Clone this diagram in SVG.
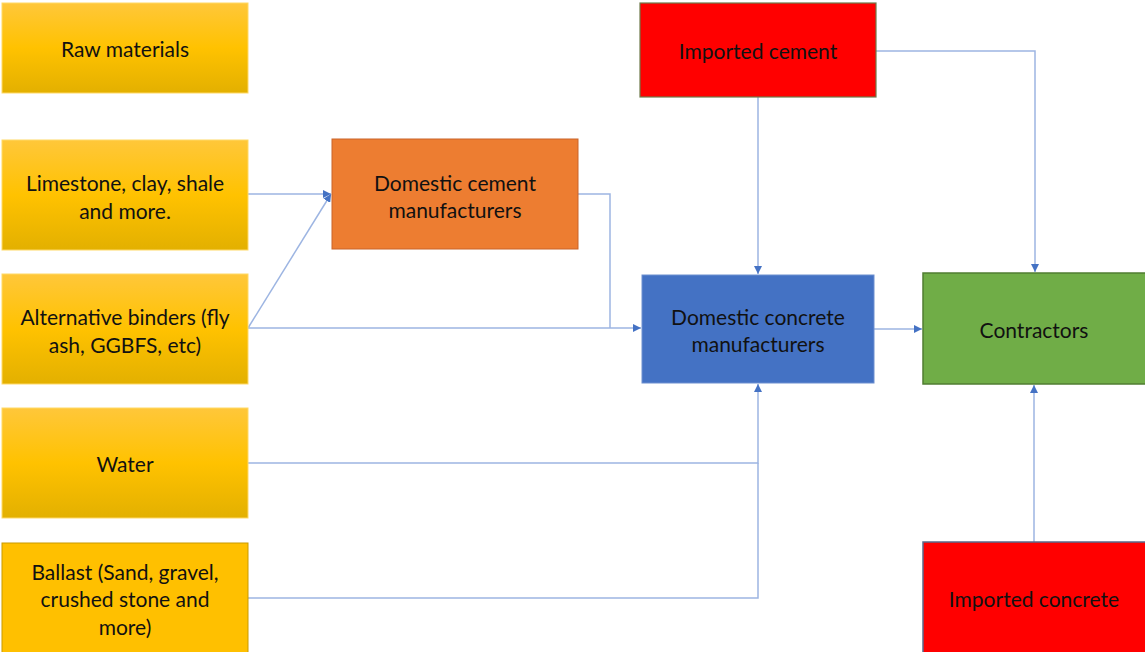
<svg xmlns="http://www.w3.org/2000/svg" width="1145" height="652" viewBox="0 0 1145 652">
<defs>
<linearGradient id="gold" x1="0" y1="0" x2="0" y2="1">
<stop offset="0" stop-color="#FFC73A"/>
<stop offset="0.5" stop-color="#FFC200"/>
<stop offset="1" stop-color="#E3B000"/>
</linearGradient>
<marker id="arr" viewBox="0 0 10 10" refX="10" refY="5" markerWidth="8" markerHeight="8" markerUnits="userSpaceOnUse" orient="auto">
<path d="M0,0 L10,5 L0,10 z" fill="#4472C4"/>
</marker>
</defs>
<style>
text{font-family:Lato,"Open Sans","Liberation Sans",sans-serif;font-size:21px;fill:#111111;text-anchor:middle;dominant-baseline:central}
.raw{fill:url(#gold);stroke:#FFD966;stroke-width:1}
.conn path{fill:none;stroke:#9DB5E2;stroke-width:1.5}
</style>
<rect width="1145" height="652" fill="#ffffff"/>
<g class="conn" id="connectors">
<path d="M248,194 H331" marker-end="url(#arr)"/>
<path d="M248,328 L331,194" marker-end="url(#arr)"/>
<path d="M248,328 H641" marker-end="url(#arr)"/>
<path d="M578,194 H610 V328"/>
<path d="M758,97 V274" marker-end="url(#arr)"/>
<path d="M876,51 H1035 V272" marker-end="url(#arr)"/>
<path d="M874,329 H922" marker-end="url(#arr)"/>
<path d="M248,463 H758 V384" marker-end="url(#arr)"/>
<path d="M248,598 H758 V463"/>
<path d="M1034,542 V385" marker-end="url(#arr)"/>
</g>
<g id="raw-materials"><rect class="raw" x="2" y="3" width="246" height="90"/><text x="125" y="48">Raw materials</text></g>
<g id="limestone"><rect class="raw" x="2" y="140" width="246" height="110"/><text x="125" y="182">Limestone, clay, shale</text><text x="125" y="210">and more.</text></g>
<g id="alt-binders"><rect class="raw" x="2" y="274" width="246" height="110"/><text x="125" y="316">Alternative binders (fly</text><text x="125" y="344">ash, GGBFS, etc)</text></g>
<g id="water"><rect class="raw" x="2" y="408" width="246" height="110"/><text x="125" y="463">Water</text></g>
<g id="ballast"><rect x="2" y="543" width="246" height="115" fill="#FFC000" stroke="#C99A00" stroke-width="1"/><text x="125" y="571">Ballast (Sand, gravel,</text><text x="125" y="598">crushed stone and</text><text x="125" y="626">more)</text></g>
<g id="domestic-cement"><rect x="332" y="139" width="246" height="110" fill="#ED7D31" stroke="#C9652A" stroke-width="1"/><text x="455" y="182">Domestic cement</text><text x="455" y="209">manufacturers</text></g>
<g id="imported-cement"><rect x="640" y="3" width="236" height="94" fill="#FF0000" stroke="#6E7A4A" stroke-width="1.2"/><text x="758" y="50">Imported cement</text></g>
<g id="domestic-concrete"><rect x="642" y="275" width="232" height="108" fill="#4472C4" stroke="#6C8FD0" stroke-width="1"/><text x="758" y="316">Domestic concrete</text><text x="758" y="343">manufacturers</text></g>
<g id="contractors"><rect x="923" y="273" width="224" height="111" fill="#70AD47" stroke="#507E32" stroke-width="1.5"/><text x="1034" y="329">Contractors</text></g>
<g id="imported-concrete"><rect x="923" y="542" width="224" height="116" fill="#FF0000" stroke="#5A6A8A" stroke-width="1.5"/><text x="1034" y="598">Imported concrete</text></g>
</svg>
